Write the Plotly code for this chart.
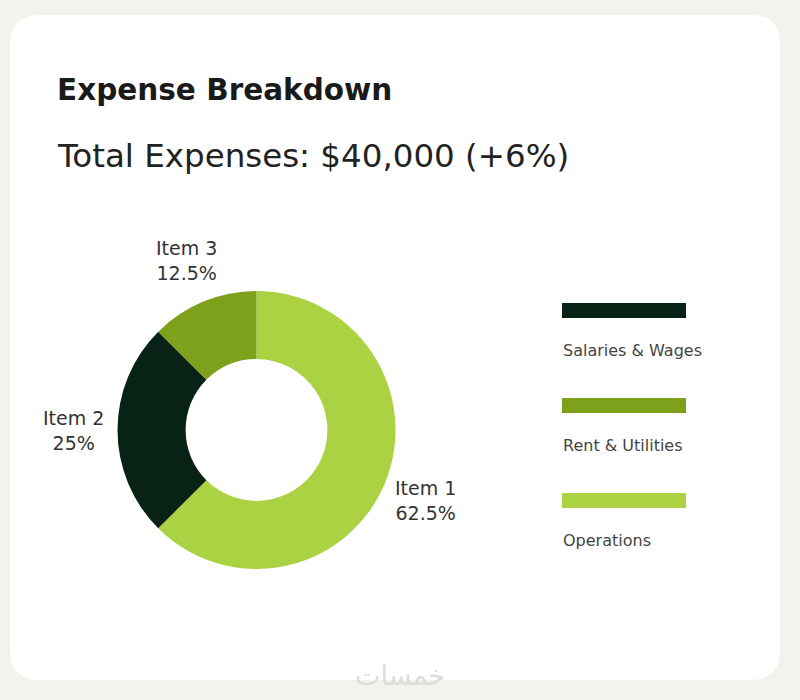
import math
import plotly.graph_objects as go

# --- data ---
items = ["Item 1", "Item 2", "Item 3"]
categories = ["Operations", "Salaries & Wages", "Rent & Utilities"]
shares = [62.5, 25, 12.5]
colors = ["#abd242", "#082316", "#7ea11c"]
legend_order = ["Salaries & Wages", "Rent & Utilities", "Operations"]

title = "Expense Breakdown"
subtitle = "Total Expenses: $40,000 (+6%)"
watermark = "خمسات"

W, H = 800, 700
FONT = "DejaVu Sans"

# pie geometry (pixels)
CX, CY, R = 256.5, 430, 139
LABEL_R = 183


def px(x):
    return x / W


def py(y):
    return 1 - y / H


fig = go.Figure()

fig.add_trace(go.Pie(
    labels=items,
    values=shares,
    customdata=categories,
    sort=False,
    direction="clockwise",
    rotation=0,
    hole=0.51,
    marker=dict(colors=colors, line=dict(width=0)),
    textinfo="none",
    showlegend=False,
    domain=dict(x=[px(CX - R), px(CX + R)], y=[py(CY + R), py(CY - R)]),
))

# card background (rounded rectangle)
x0, y0, x1, y1, r = 10, 15, 780, 680, 30
path = (
    f"M {px(x0 + r)} {py(y0)} L {px(x1 - r)} {py(y0)} "
    f"Q {px(x1)} {py(y0)} {px(x1)} {py(y0 + r)} "
    f"L {px(x1)} {py(y1 - r)} Q {px(x1)} {py(y1)} {px(x1 - r)} {py(y1)} "
    f"L {px(x0 + r)} {py(y1)} Q {px(x0)} {py(y1)} {px(x0)} {py(y1 - r)} "
    f"L {px(x0)} {py(y0 + r)} Q {px(x0)} {py(y0)} {px(x0 + r)} {py(y0)} Z"
)
shapes = [dict(type="path", path=path, xref="paper", yref="paper",
               fillcolor="white", line=dict(width=0), layer="below")]

annotations = [
    dict(text=f"<b>{title}</b>", x=px(55), y=py(90), xanchor="left", yanchor="middle",
         font=dict(family=FONT, size=29.5, color="#1a1a1a")),
    dict(text=subtitle, x=px(55), y=py(156), xanchor="left", yanchor="middle",
         font=dict(family=FONT, size=32.5, color="#222222")),
    dict(text=watermark, x=px(400), y=py(675), xanchor="center", yanchor="middle",
         font=dict(family="DejaVu Sans", size=27, color="#dcdcdc")),
]

# slice labels at the middle angle of each slice, outside the ring
total = sum(shares)
start = 0.0
for name, v in zip(items, shares):
    mid = (start + v / 2) / total * 2 * math.pi
    start += v
    lx = CX + LABEL_R * math.sin(mid)
    ly = CY - LABEL_R * math.cos(mid)
    pct = f"{v / total * 100:g}%"
    annotations.append(dict(text=f"{name}<br>{pct}", x=px(lx), y=py(ly),
                            xanchor="center", yanchor="middle",
                            font=dict(family=FONT, size=19, color="#333333")))

# custom legend: bar with label underneath
for i, name in enumerate(legend_order):
    k = categories.index(name)
    top = 303 + i * 95
    shapes.append(dict(type="rect", xref="paper", yref="paper",
                       x0=px(562), x1=px(686), y0=py(top + 15), y1=py(top),
                       fillcolor=colors[k], line=dict(width=0)))
    annotations.append(dict(text=name, x=px(561), y=py(top + 47), xanchor="left",
                            yanchor="middle",
                            font=dict(family=FONT, size=16, color="#444444")))

for a in annotations:
    a.update(xref="paper", yref="paper", showarrow=False)

fig.update_layout(
    width=W,
    height=H,
    margin=dict(l=0, r=0, t=0, b=0),
    paper_bgcolor="#f3f3ee",
    plot_bgcolor="#f3f3ee",
    shapes=shapes,
    annotations=annotations,
)

fig.write_html("out.html", config={"displayModeBar": False},
               post_script="document.body.style.margin='0';")
